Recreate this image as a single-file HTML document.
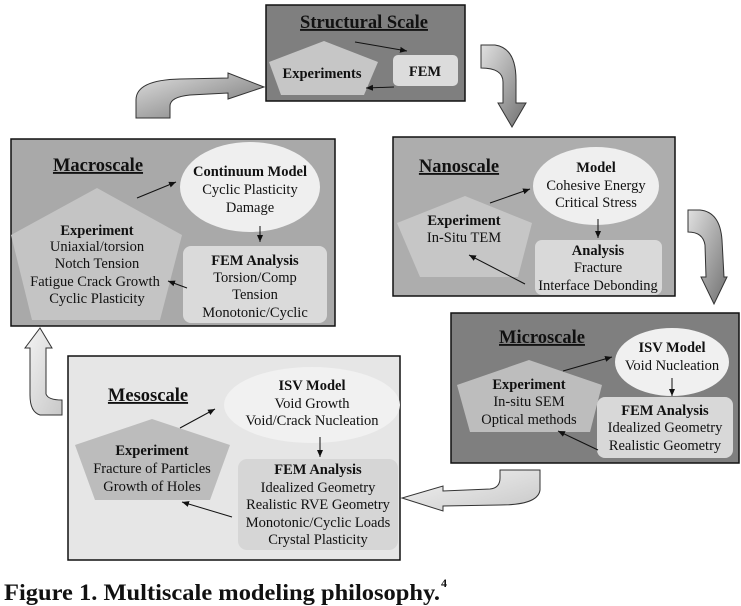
<!DOCTYPE html>
<html><head><meta charset="utf-8"><style>
html,body{margin:0;padding:0;background:#fff;}
svg{display:block;}
text{font-family:"Liberation Serif","Times New Roman",serif;font-size:14.5px;fill:#111;text-anchor:middle;}
.b{font-weight:bold;}
.t{font-weight:bold;font-size:18.5px;text-decoration:underline;}
</style></head><body>
<svg width="741" height="606" viewBox="0 0 741 606">
<defs>
<linearGradient id="g" x1="0" y1="0" x2="1" y2="1"><stop offset="0" stop-color="#e0e0e0"/><stop offset="1" stop-color="#707070"/></linearGradient>
<linearGradient id="gl" x1="0" y1="0" x2="1" y2="1"><stop offset="0" stop-color="#f4f4f4"/><stop offset="1" stop-color="#c8c8c8"/></linearGradient>
<marker id="a" markerWidth="8" markerHeight="8" refX="7" refY="4" orient="auto" markerUnits="userSpaceOnUse"><path d="M0,1 L7,4 L0,7 Z" fill="#111"/></marker>
</defs>

<!-- block arrows -->
<path d="M136,118 L136,100 Q136,80 180,79 L228,78 L228,73 L264,87 L228,99 L228,93 L190,95 Q170,97 170,106 L170,118 Z" fill="url(#g)" stroke="#333" stroke-width="1"/>
<path d="M481,45 L495,45 Q516,48 516,80 L516,103 L526,103 L512,127 L498,103 L503,103 L503,82 Q503,68 481,68 Z" fill="url(#g)" stroke="#333" stroke-width="1"/>
<path d="M688,210 L700,210 Q720,212 722,240 L724,277 L727,277 L714,304 L701,277 L706,277 L705,245 Q703,232 688,232 Z" fill="url(#g)" stroke="#333" stroke-width="1"/>
<path d="M540,470 L540,490 Q538,505 500,505 L443,506 L443,511 L402,498 L443,486 L443,491 L490,489 Q500,488 500,478 L500,470 Z" fill="url(#gl)" stroke="#333" stroke-width="1"/>
<path d="M40,328 L52,348 L46,348 L46,394 Q48,400 62,400 L62,415 L40,415 Q30,412 30,395 L30,348 L25,348 Z" fill="url(#gl)" stroke="#333" stroke-width="1"/>

<!-- Structural -->
<rect x="266" y="5" width="199" height="96" fill="#7f7f7f" stroke="#111" stroke-width="1.5"/>
<text x="364" y="28" class="t">Structural Scale</text>
<polygon points="324,41 378,62 364,95 281,95 269,62" fill="#c6c6c6"/>
<text x="322" y="78" class="b">Experiments</text>
<rect x="393" y="55" width="65" height="31" rx="5" fill="#dcdcdc"/>
<text x="425" y="76" class="b">FEM</text>
<line x1="355" y1="42" x2="407" y2="51" stroke="#111" marker-end="url(#a)"/>
<line x1="394" y1="87" x2="366" y2="88" stroke="#111" marker-end="url(#a)"/>

<!-- Macroscale -->
<rect x="11" y="139" width="324" height="187" fill="#a9a9a9" stroke="#111" stroke-width="1.5"/>
<text x="98" y="171" class="t">Macroscale</text>
<ellipse cx="250" cy="187" rx="70" ry="45" fill="#efefef"/>
<text x="250" y="176" class="b">Continuum Model</text>
<text x="250" y="194">Cyclic Plasticity</text>
<text x="250" y="212">Damage</text>
<polygon points="97,188 182,235 160,320 32,320 11,235" fill="#c4c4c4"/>
<text x="97" y="235" class="b">Experiment</text>
<text x="97" y="251">Uniaxial/torsion</text>
<text x="97" y="268">Notch Tension</text>
<text x="95" y="286">Fatigue Crack Growth</text>
<text x="97" y="303">Cyclic Plasticity</text>
<rect x="183" y="246" width="144" height="77" rx="8" fill="#dadada"/>
<text x="255" y="265" class="b">FEM Analysis</text>
<text x="255" y="282">Torsion/Comp</text>
<text x="255" y="299">Tension</text>
<text x="255" y="317">Monotonic/Cyclic</text>
<line x1="137" y1="198" x2="176" y2="182" stroke="#111" marker-end="url(#a)"/>
<line x1="260" y1="226" x2="260" y2="242" stroke="#111" marker-end="url(#a)"/>
<line x1="187" y1="288" x2="168" y2="281" stroke="#111" marker-end="url(#a)"/>

<!-- Nanoscale -->
<rect x="393" y="137" width="282" height="159" fill="#adadad" stroke="#111" stroke-width="1.5"/>
<text x="459" y="172" class="t">Nanoscale</text>
<ellipse cx="596" cy="186" rx="63" ry="39" fill="#efefef"/>
<text x="596" y="172" class="b">Model</text>
<text x="596" y="190">Cohesive Energy</text>
<text x="596" y="207">Critical Stress</text>
<polygon points="465,196 532,223 518,277 420,277 397,223" fill="#c6c6c6"/>
<text x="464" y="225" class="b">Experiment</text>
<text x="464" y="242">In-Situ TEM</text>
<rect x="535" y="240" width="127" height="55" rx="7" fill="#d9d9d9"/>
<text x="598" y="255" class="b">Analysis</text>
<text x="598" y="272">Fracture</text>
<text x="598" y="290">Interface Debonding</text>
<line x1="490" y1="203" x2="530" y2="189" stroke="#111" marker-end="url(#a)"/>
<line x1="598" y1="219" x2="598" y2="238" stroke="#111" marker-end="url(#a)"/>
<line x1="525" y1="284" x2="469" y2="255" stroke="#111" marker-end="url(#a)"/>

<!-- Microscale -->
<rect x="451" y="313" width="288" height="150" fill="#7f7f7f" stroke="#111" stroke-width="1.5"/>
<text x="542" y="343" class="t">Microscale</text>
<ellipse cx="672" cy="362" rx="57" ry="34" fill="#f0f0f0"/>
<text x="672" y="352" class="b">ISV Model</text>
<text x="672" y="370">Void Nucleation</text>
<polygon points="529,360 602,385 590,432 470,432 457,385" fill="#bdbdbd"/>
<text x="529" y="389" class="b">Experiment</text>
<text x="529" y="406">In-situ SEM</text>
<text x="529" y="424">Optical methods</text>
<rect x="597" y="397" width="136" height="61" rx="8" fill="#d8d8d8"/>
<text x="665" y="415" class="b">FEM Analysis</text>
<text x="665" y="432">Idealized Geometry</text>
<text x="665" y="450">Realistic Geometry</text>
<line x1="563" y1="371" x2="612" y2="357" stroke="#111" marker-end="url(#a)"/>
<line x1="672" y1="378" x2="672" y2="396" stroke="#111" marker-end="url(#a)"/>
<line x1="598" y1="450" x2="558" y2="431" stroke="#111" marker-end="url(#a)"/>

<!-- Mesoscale -->
<rect x="68" y="356" width="332" height="204" fill="#e6e6e6" stroke="#111" stroke-width="1.5"/>
<text x="148" y="401" class="t">Mesoscale</text>
<ellipse cx="312" cy="405" rx="88" ry="38" fill="#f1f1f1"/>
<text x="312" y="390" class="b">ISV Model</text>
<text x="312" y="408">Void Growth</text>
<text x="312" y="425">Void/Crack Nucleation</text>
<polygon points="152,419 230,445 210,500 95,500 75,445" fill="#bcbcbc"/>
<text x="152" y="455" class="b">Experiment</text>
<text x="152" y="473">Fracture of Particles</text>
<text x="152" y="491">Growth of Holes</text>
<rect x="238" y="459" width="160" height="91" rx="9" fill="#d6d6d6"/>
<text x="318" y="474" class="b">FEM Analysis</text>
<text x="318" y="492">Idealized Geometry</text>
<text x="318" y="509">Realistic RVE Geometry</text>
<text x="318" y="527">Monotonic/Cyclic Loads</text>
<text x="318" y="544">Crystal Plasticity</text>
<line x1="180" y1="428" x2="215" y2="409" stroke="#111" marker-end="url(#a)"/>
<line x1="320" y1="437" x2="320" y2="457" stroke="#111" marker-end="url(#a)"/>
<line x1="232" y1="517" x2="182" y2="502" stroke="#111" marker-end="url(#a)"/>

<!-- caption -->
<text x="4" y="600" style="text-anchor:start;font-weight:bold;font-size:23px;" textLength="436" lengthAdjust="spacingAndGlyphs">Figure 1. Multiscale modeling philosophy.</text>
<text x="441" y="587" style="text-anchor:start;font-weight:bold;font-size:12px;">4</text>
</svg>
</body></html>
